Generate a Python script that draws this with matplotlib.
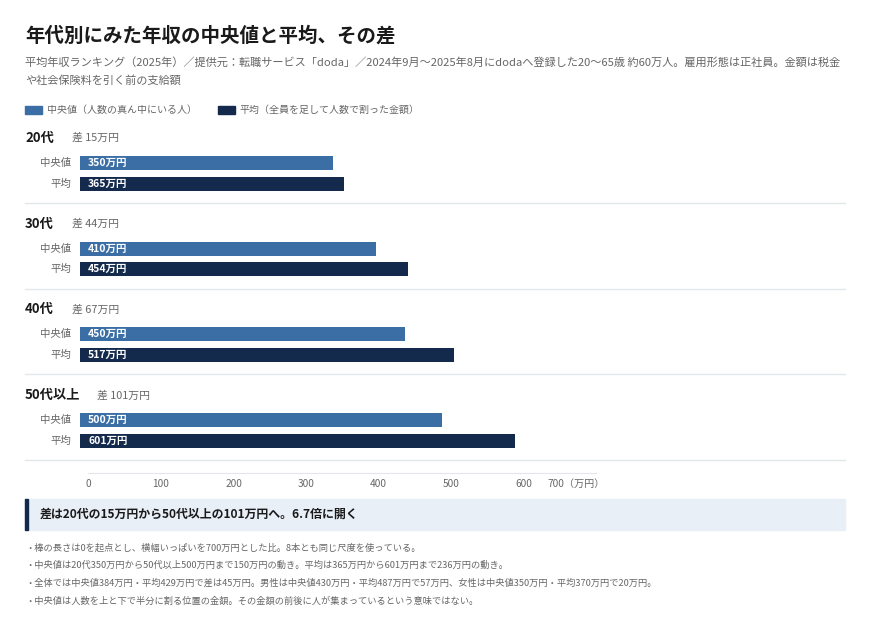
import matplotlib
matplotlib.use('Agg')
import matplotlib.pyplot as plt
from matplotlib.patches import Rectangle

plt.rcParams['font.family'] = ['Noto Sans CJK JP', 'DejaVu Sans']

W, H = 870, 638

# data
groups = ['20代', '30代', '40代', '50代以上']
median = [350, 410, 450, 500]
mean = [365, 454, 517, 601]
ticks = [0, 100, 200, 300, 400, 500, 600, 700]

title = '年代別にみた年収の中央値と平均、その差'
subtitle = ['平均年収ランキング（2025年）／提供元：転職サービス「doda」／2024年9月～2025年8月にdodaへ登録した20～65歳 約60万人。雇用形態は正社員。金額は税金',
            'や社会保険料を引く前の支給額']
legend_labels = ['中央値（人数の真ん中にいる人）', '平均（全員を足して人数で割った金額）']
callout = '差は20代の15万円から50代以上の101万円へ。6.7倍に開く'
notes = ['・棒の長さは0を起点とし、横幅いっぱいを700万円とした比。8本とも同じ尺度を使っている。',
         '・中央値は20代350万円から50代以上500万円まで150万円の動き。平均は365万円から601万円まで236万円の動き。',
         '・全体では中央値384万円・平均429万円で差は45万円。男性は中央値430万円・平均487万円で57万円、女性は中央値350万円・平均370万円で20万円。',
         '・中央値は人数を上と下で半分に割る位置の金額。その金額の前後に人が集まっているという意味ではない。']

C_MED = '#3a6ea5'
C_MEAN = '#132a4c'
C_TEXT = '#1a1a1a'
C_GRAY = '#666666'
C_LINE = '#e3e6ea'

fig = plt.figure(figsize=(W / 100, H / 100), dpi=100)
fig.patch.set_facecolor('white')


def ftext(x, y, s, **kw):
    fig.text(x / W, 1 - y / H, s, **kw)


# header
ftext(25, 36, title, fontsize=14, fontweight='bold', color=C_TEXT, va='center')
for i, line in enumerate(subtitle):
    ftext(25, 62 + i * 18, line, fontsize=8.05, color=C_GRAY, va='center')

# legend
for (lx, lab, col) in [(25, legend_labels[0], C_MED), (218, legend_labels[1], C_MEAN)]:
    fig.patches.append(Rectangle((lx / W, 1 - 114 / H), 17 / W, 8 / H,
                                 transform=fig.transFigure, color=col))
    ftext(lx + 22, 110, lab, fontsize=7.2, color=C_GRAY, va='center')

# bar axes: x in 万円, y in pixels from top
bx0, bx1 = 79.6, 586.5
ax = fig.add_axes([bx0 / W, 0, (bx1 - bx0) / W, 1])
ax.set_xlim(0, 700)
ax.set_ylim(H, 0)
ax.axis('off')

step = 85.7
for i, g in enumerate(groups):
    top = 138 + i * step
    ftext(25, top, g, fontsize=9.5, fontweight='bold', color=C_TEXT, va='center')
    diff = mean[i] - median[i]
    hx = 72 if len(g) <= 3 else 97
    ftext(hx, top, f'差 {diff}万円', fontsize=7.8, color=C_GRAY, va='center')
    for j, (val, col, lab) in enumerate([(median[i], C_MED, '中央値'), (mean[i], C_MEAN, '平均')]):
        yc = top + 25 + j * 20.5
        ax.barh(yc, val, height=14, left=0, color=col)
        ftext(71, yc, lab, fontsize=7.5, color=C_GRAY, va='center', ha='right')
        ftext(bx0 + 8.5, yc, f'{val}万円', fontsize=7.5, fontweight='bold', color='white', va='center')
    sep = top + 65
    fig.lines.append(plt.Line2D([25 / W, 845 / W], [1 - sep / H, 1 - sep / H],
                                transform=fig.transFigure, color=C_LINE, lw=1))

# value axis (labels centred 11.5px under the line)
tax = fig.add_axes([88.5 / W, 1 - 472.5 / H, (596 - 88.5) / W, 0.001])
tax.set_xlim(0, 700)
for s in ['left', 'right', 'top']:
    tax.spines[s].set_visible(False)
tax.spines['bottom'].set_color(C_LINE)
tax.set_yticks([])
tax.set_xticks(ticks[:-1])
tax.set_xticklabels([str(t) for t in ticks[:-1]], fontsize=7.3, color=C_GRAY, va='center')
tax.tick_params(axis='x', length=0, pad=8.3)
ftext(605, 484, f'{ticks[-1]}（万円）', ha='right', va='center', fontsize=7.3, color=C_GRAY)

# callout
fig.patches.append(Rectangle((25 / W, 1 - 530 / H), 820 / W, 31 / H,
                             transform=fig.transFigure, color='#e9eff7'))
fig.patches.append(Rectangle((25 / W, 1 - 530 / H), 3 / W, 31 / H,
                             transform=fig.transFigure, color=C_MEAN))
ftext(40, 514.5, callout, fontsize=8.6, fontweight='bold', color=C_TEXT, va='center')

for i, n in enumerate(notes):
    ftext(25, 548 + i * 17.6, n, fontsize=6.65, color=C_GRAY, va='center')

fig.savefig('out.png', dpi=100)
